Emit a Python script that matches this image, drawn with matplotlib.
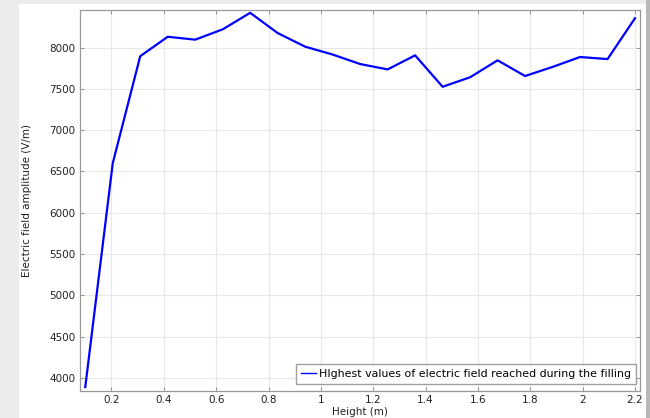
import numpy as np
import matplotlib
matplotlib.use("Agg")
import matplotlib.pyplot as plt
from matplotlib.patches import Rectangle

height_m = np.linspace(0.1, 2.2, 21)
field_vm = [3890, 6600, 7895, 8130, 8095, 8220, 8420, 8175, 8010, 7915, 7800,
            7735, 7905, 7525, 7640, 7845, 7655, 7765, 7885, 7860, 8355]
x_ticks = [0.2, 0.4, 0.6, 0.8, 1, 1.2, 1.4, 1.6, 1.8, 2, 2.2]
x_tick_labels = ["0.2", "0.4", "0.6", "0.8", "1", "1.2", "1.4", "1.6", "1.8", "2", "2.2"]
y_ticks = [4000, 4500, 5000, 5500, 6000, 6500, 7000, 7500, 8000]
legend_label = "HIghest values of electric field reached during the filling"

W, H = 650, 418
fig = plt.figure(figsize=(W / 100, H / 100), dpi=100, facecolor="#ececec")
# white canvas area
fig.patches.append(Rectangle((19 / W, 0), (646 - 19) / W, (H - 4) / H,
                             transform=fig.transFigure, facecolor="white",
                             edgecolor="none", zorder=-10))
fig.patches.append(Rectangle((646 / W, 0), 4 / W, 1,
                             transform=fig.transFigure, facecolor="#b8b8b8",
                             edgecolor="none", zorder=-10))

left, right, top, bottom = 79.5, 640, 10, 391
ax = fig.add_axes([left / W, (H - bottom) / H, (right - left) / W, (bottom - top) / H])
ax.set_zorder(5)
ax.plot(height_m, field_vm, color="#0000ff", lw=1.6, label=legend_label, zorder=3)

ax.set_xlim(0.078, 2.219)
ax.set_ylim(3843, 8454)
ax.set_xticks(x_ticks)
ax.set_xticklabels(x_tick_labels)
ax.set_yticks(y_ticks)
ax.grid(True, color="#e8e8e8", lw=0.8, zorder=0)
ax.tick_params(direction="in", length=3, width=0.6, color="#888888",
               labelsize=7.5, top=True, right=True, labelcolor="#222222", pad=3)
for s in ax.spines.values():
    s.set_color("#999999")
    s.set_linewidth(0.9)

ax.set_xlabel("Height (m)", fontsize=7.5, color="#222222", labelpad=1)
ax.set_ylabel("Electric field amplitude (V/m)", fontsize=7.5, color="#222222", labelpad=12)

leg = ax.legend(loc="lower right", bbox_to_anchor=(0.993, 0.018), fontsize=7.9,
                frameon=True, fancybox=False, edgecolor="#888888",
                handlelength=1.4, handletextpad=0.25, borderpad=0.45,
                borderaxespad=0.0, shadow=False)
leg.get_frame().set_linewidth(1.0)
for line in leg.get_lines():
    line.set_linewidth(1.0)

fig.savefig("out.png", dpi=100, facecolor=fig.get_facecolor())
